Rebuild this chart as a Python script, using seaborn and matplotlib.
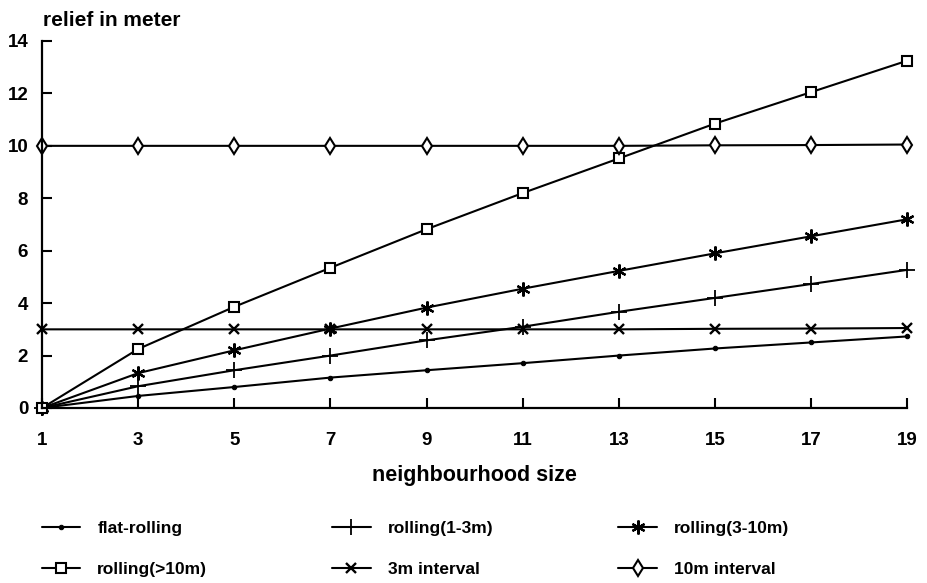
import numpy as np
import pandas as pd
import matplotlib
matplotlib.use("Agg")
import matplotlib.pyplot as plt
import seaborn as sns

sns.set_theme(style="white")
plt.rcParams["font.family"] = ["Liberation Sans", "DejaVu Sans"]
plt.rcParams["font.weight"] = "bold"
plt.rcParams["text.color"] = "black"
plt.rcParams["axes.labelcolor"] = "black"
plt.rcParams["xtick.direction"] = "in"
plt.rcParams["ytick.direction"] = "in"

# neighbourhood sizes (window width in cells)
sizes = [1, 3, 5, 7, 9, 11, 13, 15, 17, 19]

# relief (m) per terrain class
flat_rolling = [0, 0.46, 0.80, 1.16, 1.44, 1.71, 2.00, 2.27, 2.50, 2.73]
rolling_1_3 = [0, 0.83, 1.44, 2.00, 2.58, 3.10, 3.67, 4.20, 4.73, 5.27]
rolling_3_10 = [0, 1.33, 2.20, 3.03, 3.83, 4.55, 5.23, 5.90, 6.55, 7.20]
rolling_gt10 = [0, 2.25, 3.86, 5.35, 6.82, 8.20, 9.52, 10.85, 12.05, 13.25]
interval_3m = [3.0, 3.0, 3.0, 3.0, 3.0, 3.0, 3.0, 3.02, 3.03, 3.05]
interval_10m = [10.0, 10.0, 10.0, 10.0, 10.0, 10.0, 10.0, 10.02, 10.03, 10.05]

labels = ["flat-rolling", "rolling(1-3m)", "rolling(3-10m)",
          "rolling(>10m)", "3m interval", "10m interval"]
values = [flat_rolling, rolling_1_3, rolling_3_10,
          rolling_gt10, interval_3m, interval_10m]

asterisk = (6, 2, 0)
styles = {
    "flat-rolling": dict(marker="o", markersize=3.2, markerfacecolor="black"),
    "rolling(1-3m)": dict(marker="+", markersize=11, markeredgewidth=1.3),
    "rolling(3-10m)": dict(marker=asterisk, markersize=10, markeredgewidth=1.6),
    "rolling(>10m)": dict(marker="s", markersize=7.8, markerfacecolor="white",
                          markeredgewidth=1.5),
    "3m interval": dict(marker="x", markersize=7.5, markeredgewidth=1.7),
    "10m interval": dict(marker="d", markersize=8.5, markerfacecolor="white",
                         markeredgewidth=1.5),
}

fig = plt.figure(figsize=(9.28, 5.83), dpi=100)
ax = fig.add_axes([0.0453, 0.3002, 0.9325, 0.6295])

handles = {}
for lab, vals in zip(labels, values):
    df = pd.DataFrame({"size": sizes, "relief": vals})
    sns.lineplot(data=df, x="size", y="relief", ax=ax, color="black",
                 linewidth=1.5, clip_on=False, markeredgecolor="black",
                 label=lab, **styles[lab])
    handles[lab] = ax.get_lines()[-1]

ax.get_legend().remove()

ax.set_xlim(1, 19)
ax.set_ylim(0, 14)
ax.set_xticks(sizes)
ax.set_yticks(np.arange(0, 15, 2))
ax.tick_params(axis="both", direction="in", length=7, width=1.5,
               labelsize=13.5, colors="black", bottom=True, left=True)
ax.tick_params(axis="x", pad=17)
ax.tick_params(axis="y", pad=10)
for lbl in ax.get_xticklabels() + ax.get_yticklabels():
    lbl.set_fontweight("bold")

for side in ["top", "right"]:
    ax.spines[side].set_visible(False)
for side in ["left", "bottom"]:
    ax.spines[side].set_color("black")
    ax.spines[side].set_linewidth(1.6)

ax.set_xlabel("neighbourhood size", fontsize=15.5, fontweight="bold",
              labelpad=12, color="black")
ax.set_ylabel("")
fig.text(0.046, 0.965, "relief in meter", fontsize=15, fontweight="bold",
         ha="left", va="center", color="black")

order = ["flat-rolling", "rolling(>10m)", "rolling(1-3m)",
         "3m interval", "rolling(3-10m)", "10m interval"]
fig.legend([handles[k] for k in order], order, ncol=3, loc="upper left",
           bbox_to_anchor=(0.045, 0.106), frameon=False,
           prop=dict(size=12.5, weight="bold"), handlelength=2.2,
           handletextpad=1.0, columnspacing=7.2, labelspacing=1.45,
           borderaxespad=0, borderpad=0)

fig.savefig("out.png", dpi=100)
